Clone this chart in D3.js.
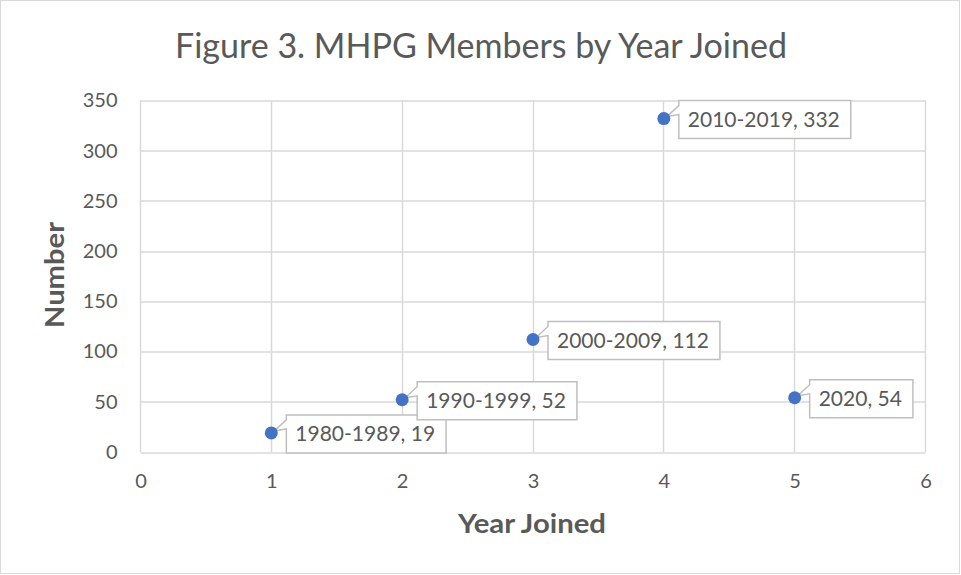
<!DOCTYPE html>
<html>
<head>
<meta charset="utf-8">
<script src="https://cdn.jsdelivr.net/npm/d3@7"></script>
<style>
  body { margin: 0; background: #fff; }
  text { font-family: Lato, "Open Sans", sans-serif; fill: #595959; }
</style>
</head>
<body>
<div id="chart"></div>
<script>
const PERIODS = ["1980-1989", "1990-1999", "2000-2009", "2010-2019", "2020"];
const X_VALUES = [1, 2, 3, 4, 5];
const MEMBERS = [19, 52, 112, 332, 54];
const X_TICKS = [0, 1, 2, 3, 4, 5, 6];
const Y_TICKS = [0, 50, 100, 150, 200, 250, 300, 350];

const W = 961, H = 575;
const MARGIN = { top: 100.5, right: 35.5, bottom: 123, left: 140.5 };
const WIDTH = W - MARGIN.left - MARGIN.right;
const HEIGHT = H - MARGIN.top - MARGIN.bottom;

const svg = d3.select("#chart").append("svg")
    .attr("width", W)
    .attr("height", H);

// outer chart border
svg.append("rect")
    .attr("x", 0.5).attr("y", 0.5)
    .attr("width", W - 2).attr("height", H - 2)
    .attr("fill", "#fff")
    .attr("stroke", "#d9d9d9");

// TITLE
svg.append("text")
    .attr("x", 481).attr("y", 58)
    .attr("text-anchor", "middle")
    .attr("font-size", 35)
    .attr("font-weight", 400)
    .attr("textLength", 612)
    .attr("lengthAdjust", "spacingAndGlyphs")
    .text("Figure 3. MHPG Members by Year Joined");

const g = svg.append("g")
    .attr("transform", `translate(${MARGIN.left}, ${MARGIN.top})`);

const x = d3.scaleLinear().domain([0, 6]).range([0, WIDTH]);
const y = d3.scaleLinear().domain([0, 350]).range([HEIGHT, 0]);

// GRID
g.append("g")
    .selectAll("line")
    .data(Y_TICKS)
    .join("line")
        .attr("x1", 0).attr("x2", WIDTH)
        .attr("y1", d => Math.round(y(d)) + 0.5)
        .attr("y2", d => Math.round(y(d)) + 0.5)
        .attr("stroke", "#d9d9d9")
        .attr("stroke-width", 1.5);
g.append("g")
    .selectAll("line")
    .data(X_TICKS)
    .join("line")
        .attr("x1", d => Math.round(x(d)))
        .attr("x2", d => Math.round(x(d)))
        .attr("y1", 0).attr("y2", HEIGHT)
        .attr("stroke", "#d9d9d9")
        .attr("stroke-width", 1.5);

// AXES
const yAxis = d3.axisLeft(y).tickValues(Y_TICKS).tickSize(0).tickPadding(23);
g.append("g").call(yAxis)
    .call(a => a.select(".domain").remove())
    .selectAll("text")
        .attr("font-size", 20)
        .style("font-family", "Lato, 'Open Sans', sans-serif")
        .attr("fill", "#595959");

const xAxis = d3.axisBottom(x).tickValues(X_TICKS).tickFormat(d3.format("d"))
    .tickSize(0).tickPadding(22);
g.append("g")
    .attr("transform", `translate(0, ${HEIGHT})`)
    .call(xAxis)
    .call(a => a.select(".domain").remove())
    .selectAll("text")
        .attr("font-size", 20)
        .style("font-family", "Lato, 'Open Sans', sans-serif")
        .attr("fill", "#595959");

// AXIS TITLES
svg.append("text")
    .attr("transform", "translate(64, 275) rotate(-90)")
    .attr("text-anchor", "middle")
    .attr("font-size", 26)
    .attr("font-weight", 700)
    .attr("textLength", 106)
    .attr("lengthAdjust", "spacingAndGlyphs")
    .text("Number");
svg.append("text")
    .attr("x", 532).attr("y", 533)
    .attr("text-anchor", "middle")
    .attr("font-size", 26)
    .attr("font-weight", 700)
    .attr("textLength", 148)
    .attr("lengthAdjust", "spacingAndGlyphs")
    .text("Year Joined");

// DATA
const points = X_VALUES.map((v, i) => ({ x: v, y: MEMBERS[i], label: `${PERIODS[i]}, ${MEMBERS[i]}` }));

// callouts
const callouts = g.append("g")
    .selectAll("g")
    .data(points)
    .join("g")
        .attr("transform", d => `translate(${x(d.x)}, ${y(d.y)})`);

callouts.append("text")
    .attr("x", 24).attr("y", 8)
    .attr("font-size", 21)
    .text(d => d.label);

callouts.each(function () {
    const node = d3.select(this);
    const tw = node.select("text").node().getComputedTextLength();
    const bx = 15, by = -18, bw = tw + 20, bh = 38;
    const path = `M${bx},${by} H${bx + bw} V${by + bh} H${bx} V${by + 14} L3,-2 L${bx},${by + 5} Z`;
    node.insert("path", "text")
        .attr("d", path)
        .attr("fill", "#fff")
        .attr("stroke", "#bfbfbf")
        .attr("stroke-width", 1.5);
});

// markers
g.append("g")
    .selectAll("circle")
    .data(points)
    .join("circle")
        .attr("cx", d => x(d.x))
        .attr("cy", d => y(d.y))
        .attr("r", 6.5)
        .attr("fill", "#4472c4");
</script>
</body>
</html>
